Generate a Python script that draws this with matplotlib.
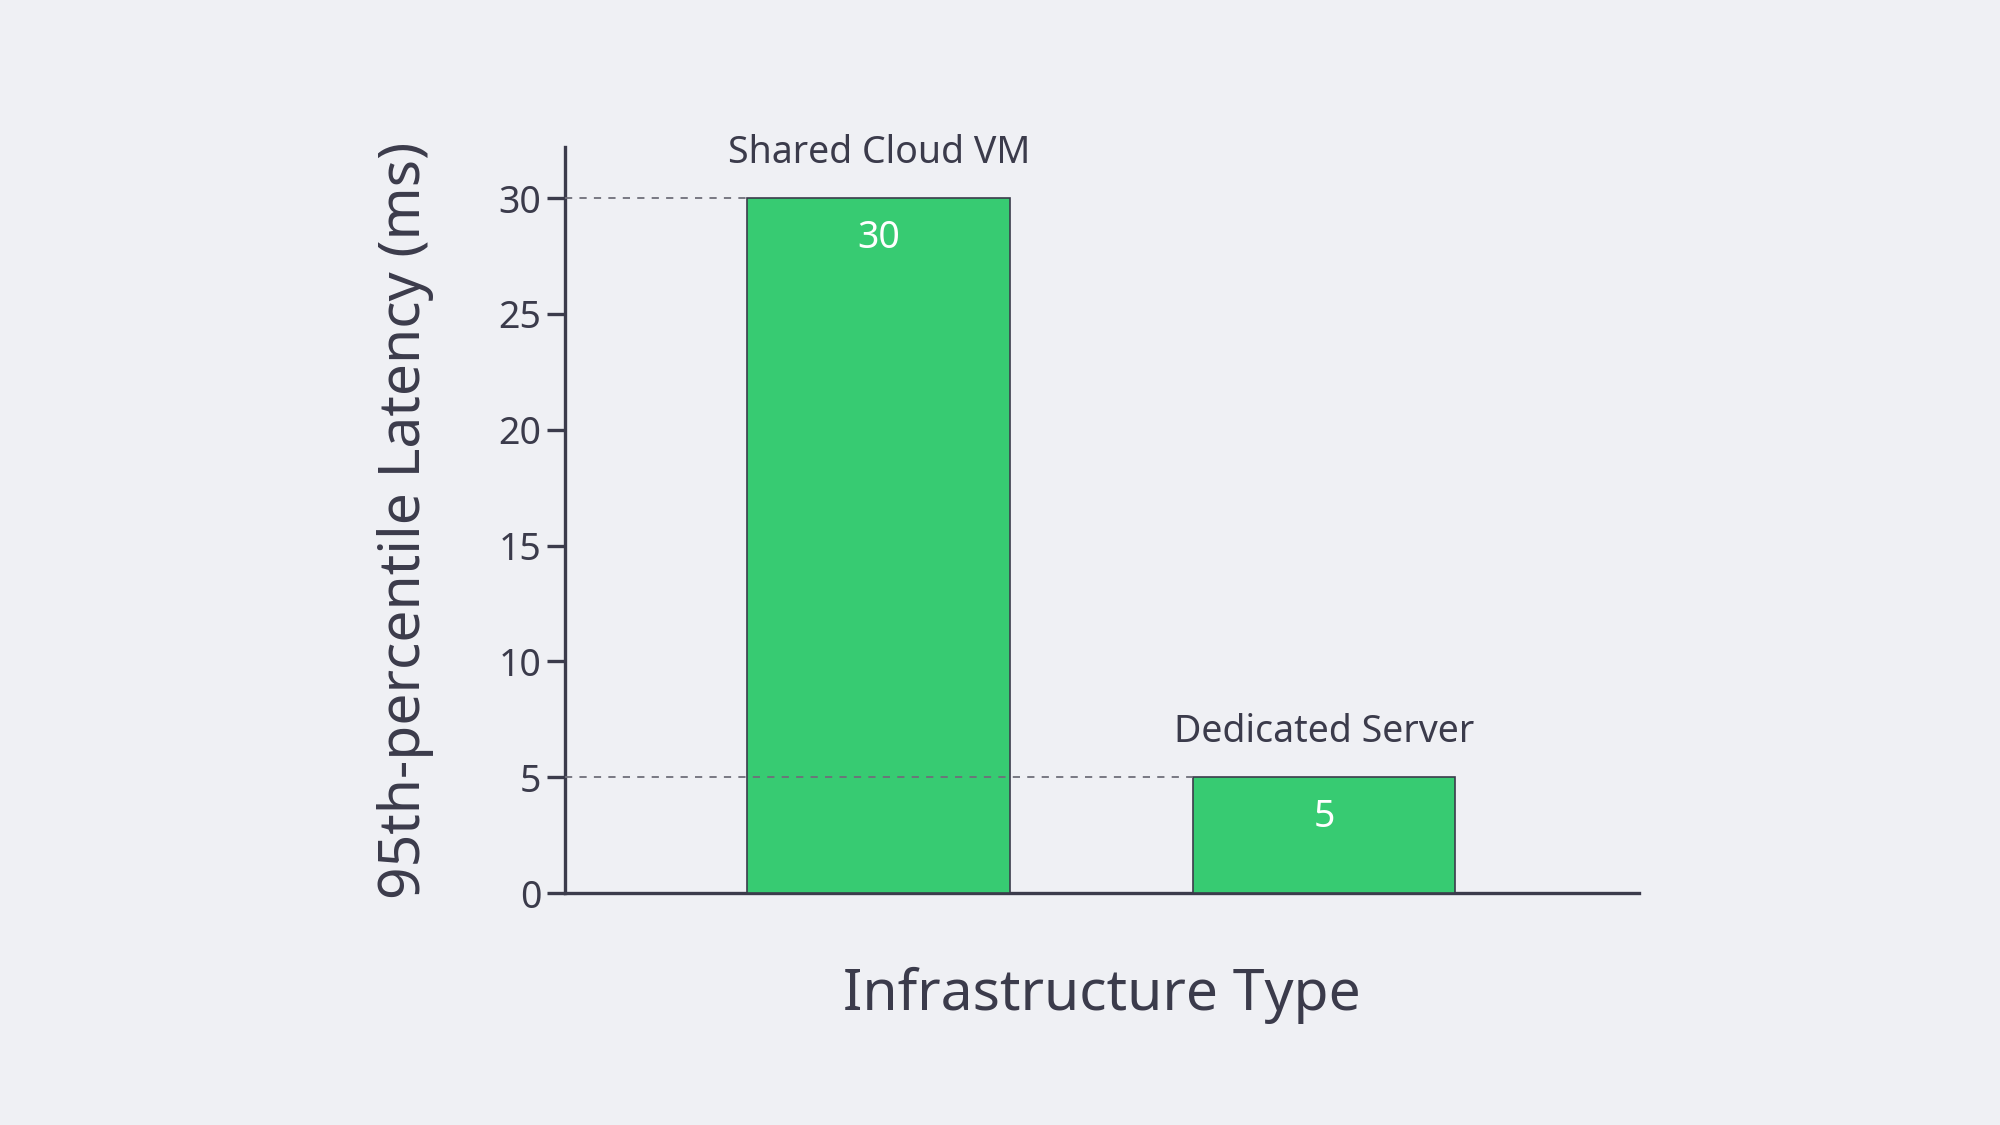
import matplotlib
matplotlib.use("Agg")
import matplotlib.pyplot as plt

# data
categories = ["Shared Cloud VM", "Dedicated Server"]
latency_ms = [30, 5]
y_ticks = [0, 5, 10, 15, 20, 25, 30]

BG = "#eff0f4"
GREEN = "#37cb72"
INK = "#3b3b4b"
DASH = "#6f6f7a"

plt.rcParams["font.family"] = ["Noto Sans", "DejaVu Sans"]

fig = plt.figure(figsize=(20, 11.25), dpi=100, facecolor=BG)
ax = fig.add_axes([0.2825, 0.2062, 0.537, 0.6631], facecolor=BG)

x = list(range(len(categories)))
width = 0.59
bars = ax.bar(x, latency_ms, width=width, color=GREEN, edgecolor=INK,
              linewidth=1.2, zorder=3)

ax.set_xlim(-0.705, 1.708)
ax.set_ylim(0, 32.2)

# dashed guide lines from the axis to each bar (drawn over the bars)
for xi, v in zip(x, latency_ms):
    ax.plot([-0.705, xi - width / 2], [v, v], linestyle=(0, (4, 4)),
            color=DASH, linewidth=1.3, zorder=4)

# labels
for xi, v, name in zip(x, latency_ms, categories):
    ax.annotate(name, (xi, v), xytext=(0, 19), textcoords="offset points",
                ha="center", va="bottom", fontsize=27, color=INK)
    ax.annotate(str(v), (xi, v), xytext=(0, -29), textcoords="offset points",
                ha="center", va="center", fontsize=27, color="white", zorder=5)

ax.set_yticks(y_ticks)
ax.set_xticks([])
ax.tick_params(axis="y", length=13, width=2.4, color=INK, labelcolor=INK,
               labelsize=27, pad=4)

for side in ["top", "right"]:
    ax.spines[side].set_visible(False)
for side in ["left", "bottom"]:
    ax.spines[side].set_color(INK)
    ax.spines[side].set_linewidth(2.4)

ax.set_xlabel("Infrastructure Type", fontsize=41, color=INK, labelpad=53)
ax.set_ylabel("95th-percentile Latency (ms)", fontsize=41, color=INK, labelpad=46)

fig.savefig("out.png", dpi=100, facecolor=BG)
